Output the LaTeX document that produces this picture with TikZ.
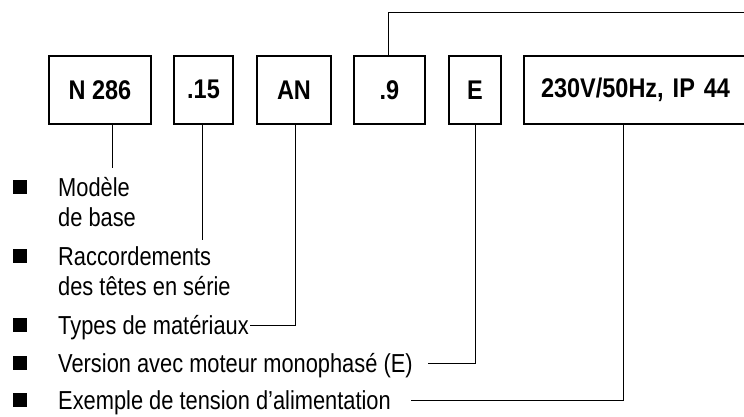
\documentclass[tikz,border=0pt]{standalone}
\usepackage{fontspec}
\setmainfont{Liberation Sans}[FakeStretch=0.84]
\newfontfamily\codefont{Liberation Sans}[FakeStretch=0.87]
\begin{document}
\begin{tikzpicture}[x=1pt,y=-1pt,
  code/.style={draw,line width=2pt,minimum height=68.5pt,inner sep=0pt,
    font=\codefont\fontsize{27}{31}\selectfont\bfseries,anchor=west},
  item/.style={anchor=base west,inner sep=0pt,font=\fontsize{26}{30}\selectfont},
  bul/.style={fill=black,minimum size=14pt,inner sep=0pt},
  lead/.style={line width=1pt}]
\useasboundingbox (0,0) rectangle (744,416);
\clip (0,0) rectangle (744,416);
% code boxes
\node[code,minimum width=102.6pt] (b1) at (47.7,89.75) {N 286};
\node[code,minimum width=59.6pt]  (b2) at (172.7,89.75) {.15};
\node[code,minimum width=74.6pt]  (b3) at (255.7,89.75) {AN};
\node[code,minimum width=71.3pt]  (b4) at (352.7,89.75) {.9};
\node[code,minimum width=52pt]    (b5) at (448,89.75) {E};
\node[code,minimum width=250pt,text width=250pt,align=left] (b6) at (523,89.75) {\hspace*{17pt}230V/50Hz, IP 44};
% bullets
\node[bul] (q1) at (20,187) {};
\node[bul] (q2) at (20,256) {};
\node[bul] (q3) at (20,325) {};
\node[bul] (q4) at (20,363) {};
\node[bul] (q5) at (20,400) {};
% item texts
\node[item] (t1)  at (58,196.3) {Modèle};
\node[item] (t1b) at (58,226.3) {de base};
\node[item] (t2)  at (58,265.3) {Raccordements};
\node[item] (t2b) at (58,295.3) {des têtes en série};
\node[item] (t3)  at (58,334.3) {Types de matériaux};
\node[item] (t4)  at (58,372.3) {Version avec moteur monophasé (E)};
\node[item] (t5)  at (58,409.3) {Exemple de tension d’alimentation};
% free ends
\coordinate (e1) at (112.7,167.7);
\coordinate (e2) at (202.3,239.7);
\coordinate (e4) at (760,12.7);
% connectors
\draw[lead] (b1.south -| e1) -- (e1);
\draw[lead] (b2.south -| e2) -- (e2);
\draw[lead] ([xshift=1.3pt]b3.south) |- ([xshift=1pt,yshift=9.3pt]t3.base east);
\draw[lead] ([xshift=-1.3pt]b4.north) |- (e4);
\draw[lead] ([xshift=0.3pt]b5.south) |- ([xshift=15pt,yshift=9.3pt]t4.base east);
\draw[lead] ([xshift=100.7pt]b6.south west) |- ([xshift=20pt,yshift=9.3pt]t5.base east);
\end{tikzpicture}
\end{document}
